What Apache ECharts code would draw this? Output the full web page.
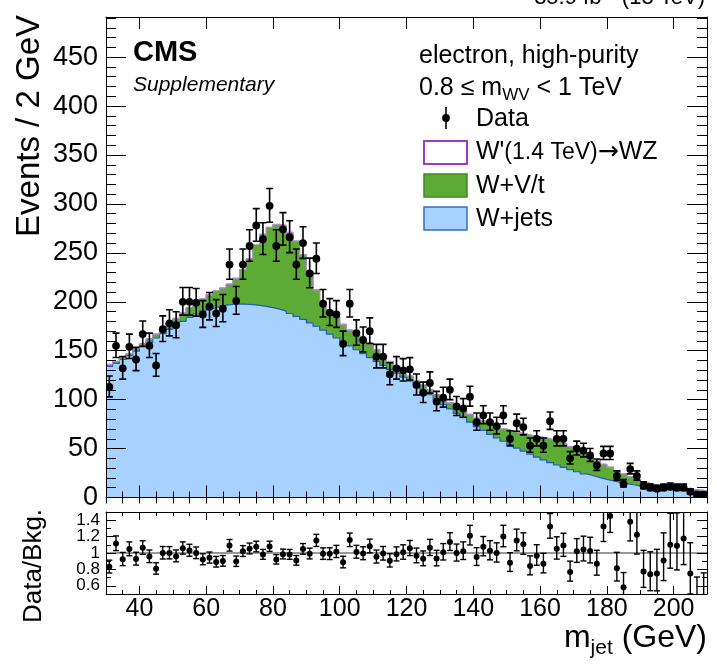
<!DOCTYPE html>
<html><head><meta charset="utf-8">
<script src="https://cdn.jsdelivr.net/npm/echarts@6/dist/echarts.min.js"></script>
<style>html,body{margin:0;padding:0;background:#fff}#c{width:717px;height:664px}</style>
</head><body><div id="c"></div>
<script>
// ---------------- data ----------------
const binLow = [30,32,34,36,38,40,42,44,46,48,50,52,54,56,58,60,62,64,66,68,
  70,72,74,76,78,80,82,84,86,88,90,92,94,96,98,100,102,104,106,108,
  110,112,114,116,118,120,122,124,126,128,130,132,134,136,138,140,142,144,146,148,
  150,152,154,156,158,160,162,164,166,168,170,172,174,176,178,180,182,184,186,188,
  190,192,194,196,198,200,202,204,206,208];
const binWidth = 2;
const dataCounts = [113,155,132,154,141,167,155,135,172,178,
  176,200,200,199,187,195,188,193,238,201,
  238,257,278,264,298,257,274,266,238,260,
  229,244,198,189,187,157,198,168,161,170,
  144,144,126,132,130,131,115,107,117,98,
  102,110,93,91,103,77,84,77,73,84,
  60,76,72,53,60,53,78,60,60,40,
  50,48,43,33,45,45,22,14,29,22,
  12,10,9,10,11,10,10,6,3,3];
const wjets = [134,137,141,145,149.5,154,158.5,163,167.5,172,
  176,180,184,187.5,190.5,193,195,196.5,197.3,197.6,
  197.5,197,196.3,195.3,194,192.5,190.5,188,185,182,
  178.5,175,171,167,163,159,155,151,147,143,
  139,135,131,127,123,119,115,110,105,100,
  95,90.5,86,81.5,77,72.5,68.5,64.5,61,57.5,
  54,50.5,47.3,44.2,41.2,38.4,35.7,33.2,30.8,28.5,
  26.3,24.2,22.2,20.3,18.6,17,15.5,14.2,13,11.9,
  10.9,10,9.3,8.7,8.2,7.8,7.4,7,6.6,6.2];
const wvt = [2,2,2,2,2.5,3,3.5,4,4.5,6,
  7,9,10,11.5,12.5,14,16,17.5,20.7,26.4,
  35.5,47,61.7,73.7,82,86.5,87.5,83,77,66,
  52.5,37,29,24,21,18,16,15,15,14,
  12,10,8,7,6,5,4,5,5,5,
  6,6.5,7,7.5,8,8.5,9.5,10.5,12,12.5,
  14,15.5,17.7,18.8,20.8,22.6,23.3,23.8,24.2,23.5,
  22.7,21.8,19.8,17.7,15.4,14,11.5,9.8,8,6.1,
  4.6,3.5,2.7,2.3,1.8,1.4,1.1,1,0.9,0.8];
const xTicks = [40,60,80,100,120,140,160,180,200];
const yTicks = [0,50,100,150,200,250,300,350,400,450];
const ratioTicks = [0.6,0.8,1,1.2,1.4];
const ratioLabelsA = [0.6,1,1.4];
const ratioLabelsB = [0.8,1.2];
const ratioMinorTicks = [0.5,0.7,0.9,1.1,1.3,1.5];

// ---------------- derived ----------------
const FONT = '"Liberation Sans", Arial, Helvetica, sans-serif';
const xMin = binLow[0], xMax = binLow[binLow.length-1] + binWidth;
const centers = binLow.map(v => v + binWidth/2);
const total = wjets.map((v,i) => v + wvt[i]);   // stacked: W+jets + W+V/t
function poisson(n){ const s = Math.sqrt(n + 0.25); return [n + 0.5 - s, n + 0.5 + s]; }
const stepPts = arr => binLow.map((x,i) => [x, arr[i]]).concat([[xMax, arr[arr.length-1]]]);
const dataPts = centers.map((c,i) => { const e = poisson(dataCounts[i]); return [c, dataCounts[i], e[0], e[1]]; });
const ratioPts = centers.map((c,i) => { const e = poisson(dataCounts[i]); const t = total[i];
  return [c, dataCounts[i]/t, e[0]/t, e[1]/t]; });

const mainMinor = []; for (let v = xMin; v <= xMax; v += 5) mainMinor.push(v);
const yMinor = []; for (let v = 0; v <= 490; v += 10) yMinor.push(v);

function errRender(r, cap, lw){
  return function(params, api){
    const p = api.coord([api.value(0), api.value(1)]);
    const pl = api.coord([api.value(0), api.value(2)]);
    const ph = api.coord([api.value(0), api.value(3)]);
    const st = {stroke:'#000', lineWidth:lw};
    return {type:'group', children:[
      {type:'line', shape:{x1:p[0], y1:pl[1], x2:p[0], y2:ph[1]}, style:st},
      {type:'line', shape:{x1:p[0]-cap, y1:pl[1], x2:p[0]+cap, y2:pl[1]}, style:st},
      {type:'line', shape:{x1:p[0]-cap, y1:ph[1], x2:p[0]+cap, y2:ph[1]}, style:st},
      {type:'circle', shape:{cx:p[0], cy:p[1], r:r}, style:{fill:'#000'}}
    ]};
  };
}

const black = {color:'#000', width:1};
function xAx(grid, pos, ticks, len, opts){
  return Object.assign({type:'value', gridIndex:grid, position:pos, min:xMin, max:xMax, z:10,
    axisLine:{show:false}, splitLine:{show:false},
    axisTick:{show:true, inside:true, length:len, customValues:ticks, lineStyle:black},
    axisLabel:{show:false}}, opts||{});
}
function yAx(grid, pos, min, max, ticks, len, opts){
  return Object.assign({type:'value', gridIndex:grid, position:pos, min:min, max:max, z:10,
    axisLine:{show:false}, splitLine:{show:false},
    axisTick:{show:true, inside:true, length:len, customValues:ticks, lineStyle:black},
    axisLabel:{show:false}}, opts||{});
}
const lineOn = {axisLine:{show:true, onZero:false, lineStyle:black}};
const ratioFmt = v => (Math.abs(v-1)<1e-9 ? '1' : (+v).toFixed(1));
const ratioLabel = vals => ({show:true, customValues:vals, fontSize:17, fontFamily:FONT, color:'#000', margin:6,
  interval:0, hideOverlap:false, formatter:ratioFmt});

const xAxis = [
  xAx(0,'bottom',xTicks,12, lineOn),
  xAx(0,'bottom',mainMinor,6),
  xAx(0,'top',xTicks,12, lineOn),
  xAx(0,'top',mainMinor,6),
  xAx(1,'bottom',xTicks,8, {axisLine:{show:true,onZero:false,lineStyle:black},
     axisLabel:{show:true, customValues:xTicks, fontSize:25, fontFamily:FONT, color:'#000', margin:3}}),
  xAx(1,'bottom',mainMinor,4),
  xAx(1,'top',xTicks,8, lineOn),
  xAx(1,'top',mainMinor,4)
];
const yAxis = [
  yAx(0,'left',0,491,yTicks,20, {axisLine:{show:true,onZero:false,lineStyle:black},
     axisLabel:{show:true, customValues:yTicks, fontSize:27, fontFamily:FONT, color:'#000', margin:8}}),
  yAx(0,'left',0,491,yMinor,10),
  yAx(0,'right',0,491,yTicks,20, lineOn),
  yAx(0,'right',0,491,yMinor,10),
  yAx(1,'left',0.5,1.5,ratioTicks,10, {axisLine:{show:true,onZero:false,lineStyle:black},
     axisLabel:ratioLabel(ratioLabelsA)}),
  yAx(1,'left',0.5,1.5,ratioMinorTicks,5, {axisLabel:ratioLabel(ratioLabelsB)}),
  yAx(1,'right',0.5,1.5,ratioTicks,10, lineOn),
  yAx(1,'right',0.5,1.5,ratioMinorTicks,5)
];

const series = [
  {type:'line', name:'W+V/t', xAxisIndex:0, yAxisIndex:0, step:'end', symbol:'none',
   data: stepPts(total), lineStyle:{color:'#3d8a25', width:1}, areaStyle:{color:'#5dab35', opacity:1}, z:2},
  {type:'line', name:'W+jets', xAxisIndex:0, yAxisIndex:0, step:'end', symbol:'none',
   data: stepPts(wjets), lineStyle:{color:'#1f5cbf', width:1.2}, areaStyle:{color:'#a7d2ff', opacity:1}, z:3},
  {type:'line', name:"W'", xAxisIndex:0, yAxisIndex:0, step:'end', symbol:'none',
   data: stepPts(total), lineStyle:{color:'#b48ad6', width:1.2}, z:4},
  {type:'custom', xAxisIndex:0, yAxisIndex:0, data:dataPts, renderItem: errRender(3.9,3.5,1.6), clip:true, z:12},
  {type:'line', xAxisIndex:4, yAxisIndex:4, symbol:'none', data:[[xMin,1],[xMax,1]],
   lineStyle:{color:'#999', width:2}, z:5},
  {type:'custom', xAxisIndex:4, yAxisIndex:4, data:ratioPts, renderItem: errRender(3,3,1.4), clip:true, z:12}
];

// ---------------- text helpers ----------------
const mctx = document.createElement('canvas').getContext('2d');
function tw(text, font){ mctx.font = font; return mctx.measureText(text).width; }
function seq(parts, x, y, alignRight){
  let w = 0; parts.forEach(p => { p.w = tw(p.t, p.f); w += p.w; });
  let cx = alignRight ? x - w : x;
  return parts.map(p => { const el = {type:'text', x:cx, y:y + (p.dy||0),
      style:{text:p.t, font:p.f, fill:'#000', textAlign:'left', align:'left', textVerticalAlign:'middle', verticalAlign:'middle'}};
    cx += p.w; return el; });
}
function txt(t, x, y, font, extra){
  return Object.assign({type:'text', x:x, y:y, style:Object.assign({text:t, font:font, fill:'#000',
    textAlign:'left', align:'left', textVerticalAlign:'middle', verticalAlign:'middle'}, (extra&&extra.style)||{})},
    extra ? {rotation: extra.rotation||0} : {});
}
const f25 = `25px ${FONT}`;
const graphic = [].concat(
  [txt('Events / 2 GeV', 30, 15, `33px ${FONT}`, {rotation:Math.PI/2, style:{textAlign:'right', align:'right'}}),
   txt('Data/Bkg.', 34, 566, `26px ${FONT}`, {rotation:Math.PI/2, style:{textAlign:'center', align:'center'}}),
   txt('CMS', 133, 53, `bold 29px ${FONT}`),
   txt('Supplementary', 133, 85, `italic 21px ${FONT}`),
   txt('electron, high-purity', 419, 56, f25),
   txt('35.9 fb\u207B\u00B9 (13 TeV)', 705, 9, `22px ${FONT}`, {style:{textAlign:'right', align:'right', textVerticalAlign:'bottom', verticalAlign:'bottom'}})],
  seq([{t:'0.8 \u2264 m', f:f25}, {t:'WV', f:`17px ${FONT}`, dy:7}, {t:' < 1 TeV', f:f25}], 419, 88),
  // legend
  [{type:'line', shape:{x1:446, y1:107, x2:446, y2:129}, style:{stroke:'#000', lineWidth:1.6}},
   {type:'circle', shape:{cx:446, cy:118, r:3.9}, style:{fill:'#000'}},
   txt('Data', 476, 119, f25),
   {type:'rect', shape:{x:424, y:141, width:43, height:23}, style:{fill:'#fff', stroke:'#9b3bcc', lineWidth:2}},
   {type:'rect', shape:{x:424, y:174, width:43, height:23}, style:{fill:'#5dab35', stroke:'#3d8a25', lineWidth:1.5}},
   {type:'rect', shape:{x:424, y:207, width:43, height:23}, style:{fill:'#a7d2ff', stroke:'#2f6fc4', lineWidth:1.5}},
   txt('W+V/t', 476, 186, f25),
   txt('W+jets', 476, 219, f25)],
  seq([{t:"W'", f:f25}, {t:'(1.4 TeV)', f:`23px ${FONT}`, dy:1}, {t:'\u2192', f:`25px "DejaVu Sans", sans-serif`}, {t:'WZ', f:f25}], 476, 152),
  seq([{t:'m', f:`32px ${FONT}`}, {t:'jet', f:`21px ${FONT}`, dy:10}, {t:' (GeV)', f:`32px ${FONT}`}], 707, 638, true)
);

const chart = echarts.init(document.getElementById('c'), null, {renderer:'canvas'});
chart.setOption({
  animation:false,
  backgroundColor:'#fff',
  grid:[{left:106, top:17, width:601, height:480.5}, {left:106, top:512, width:601, height:82}],
  xAxis:xAxis, yAxis:yAxis, series:series, graphic:graphic
});
</script></body></html>
